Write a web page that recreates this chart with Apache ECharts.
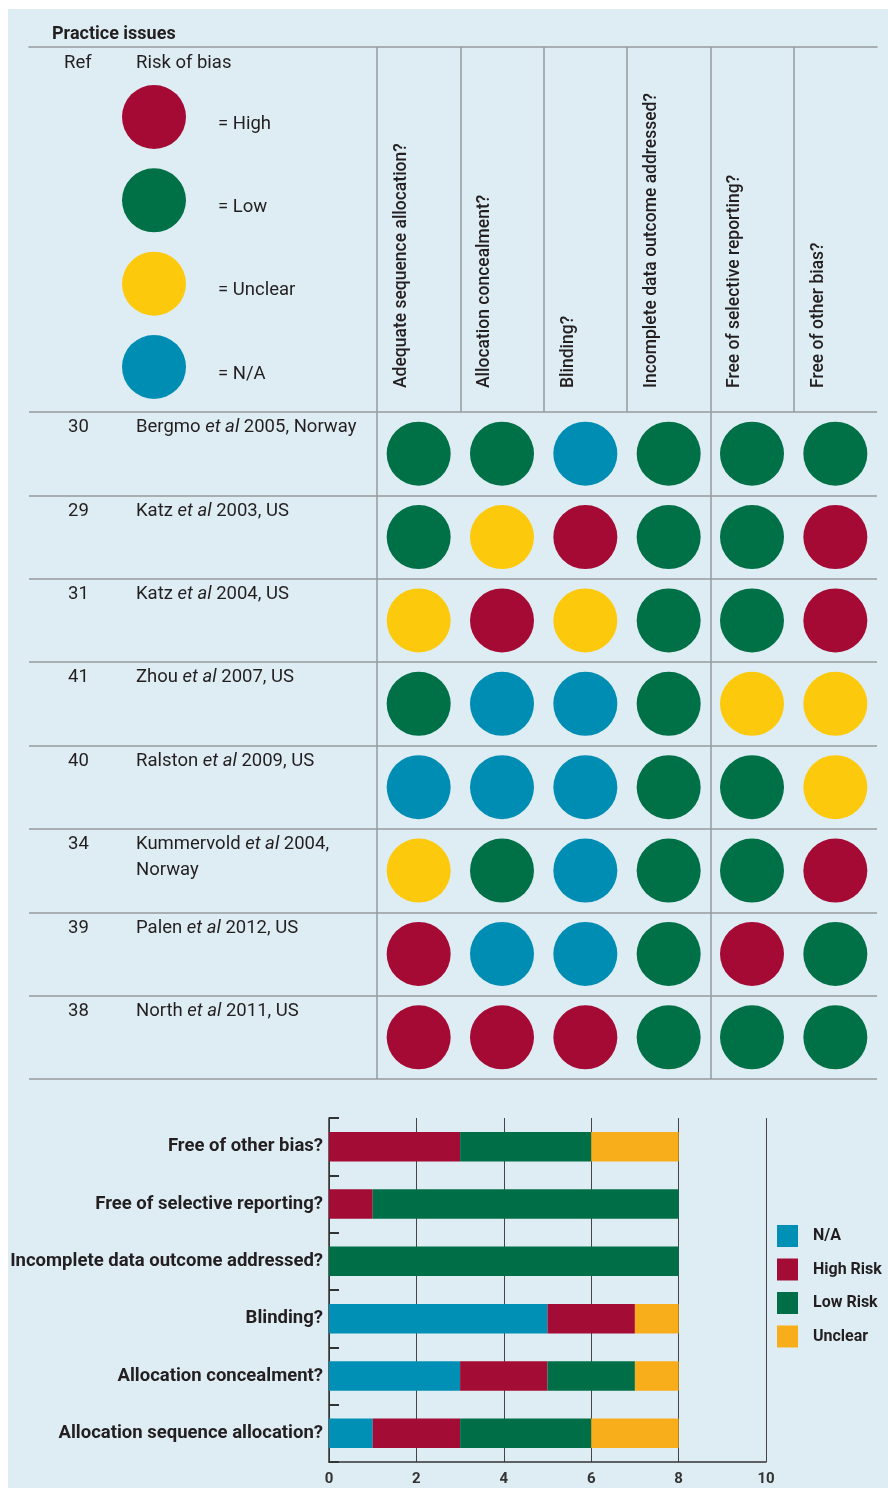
<!DOCTYPE html>
<html lang="en">
<head>
    <meta charset="UTF-8">
    <script src="https://cdn.jsdelivr.net/npm/echarts@6.0.0/dist/echarts.min.js"></script>
    <title>Risk of bias</title>
    <style>
        body { margin: 0; background: #ffffff; }
        #panel { position: absolute; left: 8px; top: 9px; right: 0; bottom: 0; background: #deedf4; }
        #chart_main { position: absolute; left: 0; top: 0; width: 888px; height: 1488px; }
    </style>
</head>
<body>
<div id="panel"></div>
<div id="chart_main"></div>
<script>

    // ---- table data ----
    var refs = ['30', '29', '31', '41', '40', '34', '39', '38'];
    var authors = ['Bergmo', 'Katz', 'Katz', 'Zhou', 'Ralston', 'Kummervold', 'Palen', 'North'];
    var details = ['2005, Norway', '2003, US', '2004, US', '2007, US', '2009, US', '2004,\nNorway', '2012, US', '2011, US'];
    var questions = ['Adequate sequence allocation?', 'Allocation concealment?', 'Blinding?',
        'Incomplete data outcome addressed?', 'Free of selective reporting?', 'Free of other bias?'];
    // H = high, L = low, U = unclear, N = n/a ; one row per study, one column per question
    var ratings = [
        ['L', 'L', 'N', 'L', 'L', 'L'],
        ['L', 'U', 'H', 'L', 'L', 'H'],
        ['U', 'H', 'U', 'L', 'L', 'H'],
        ['L', 'N', 'N', 'L', 'U', 'U'],
        ['N', 'N', 'N', 'L', 'L', 'U'],
        ['U', 'L', 'N', 'L', 'L', 'H'],
        ['H', 'N', 'N', 'L', 'H', 'L'],
        ['H', 'H', 'H', 'L', 'L', 'L']
    ];
    var statusKeys = ['H', 'L', 'U', 'N'];
    var statusNames = ['= High', '= Low', '= Unclear', '= N/A'];
    var statusColors = ['#a50a34', '#007047', '#fdc90d', '#008db4'];

    // ---- summary bar data ----
    var barQuestions = ['Allocation sequence allocation?', 'Allocation concealment?', 'Blinding?',
        'Incomplete data outcome addressed?', 'Free of selective reporting?', 'Free of other bias?'];
    var naCounts = [1, 3, 5, 0, 0, 0];
    var highCounts = [2, 2, 2, 0, 1, 3];
    var lowCounts = [3, 2, 0, 8, 7, 3];
    var unclearCounts = [2, 1, 1, 0, 0, 2];
    var barNames = ['N/A', 'High Risk', 'Low Risk', 'Unclear'];
    var barColors = ['#008fb5', '#a30c35', '#006f47', '#f8ae1b'];

    var FONT = 'Roboto, "Noto Sans", sans-serif';
    var LINE = '#959a9e';
    var INK = '#231f20';
    var FS = 18.5;

    var Chart_Main = echarts.init(document.getElementById('chart_main'));

    function rowLabel(value, index) {
        var parts = details[index].split('\n');
        var s = '{num|' + refs[index] + '}{nm|' + authors[index] + ' }{it|et al}{nm| ' + parts[0] + '}';
        s += '\n{num| }{nm|' + (parts[1] || ' ') + '}';
        s += '\n{nm| }';
        return s;
    }

    var series = [];
    for (var k in statusKeys) {
        var pts = [];
        for (var r in ratings) {
            for (var c in ratings[r]) {
                if (ratings[r][c] == statusKeys[k]) {
                    pts.push([Number(c), Number(r)]);
                }
            }
        }
        series.push({
            name: statusNames[k],
            type: 'scatter',
            xAxisIndex: 1,
            yAxisIndex: 1,
            symbol: 'circle',
            symbolSize: 64,
            itemStyle: {color: statusColors[k], opacity: 1},
            data: pts
        });
    }

    var barData = [naCounts, highCounts, lowCounts, unclearCounts];
    for (var b in barNames) {
        series.push({
            name: barNames[b],
            type: 'bar',
            stack: 'total',
            xAxisIndex: 4,
            yAxisIndex: 4,
            barWidth: 29.5,
            itemStyle: {color: barColors[b]},
            data: barData[b]
        });
    }

    var option = {
        animation: false,
        backgroundColor: 'transparent',
        textStyle: {fontFamily: FONT},
        title: [
            {text: 'Practice issues', left: 52, top: 25, padding: 0, textStyle: {fontSize: 18, fontWeight: 'bold', color: INK, fontFamily: FONT}},
            {text: 'Ref', left: 64, top: 54, padding: 0, textStyle: {fontSize: FS, fontWeight: 'normal', color: INK, fontFamily: FONT}},
            {text: 'Risk of bias', left: 136, top: 54, padding: 0, textStyle: {fontSize: FS, fontWeight: 'normal', color: INK, fontFamily: FONT}}
        ],
        legend: [
            {
                data: statusNames,
                orient: 'vertical',
                left: 122,
                top: 85,
                padding: 0,
                icon: 'circle',
                itemWidth: 64,
                itemHeight: 64,
                itemGap: 19.33,
                selectedMode: false,
                formatter: '{t|{name}}',
                textStyle: {
                    padding: [0, 0, 0, 27],
                    rich: {t: {fontSize: FS, color: INK, fontFamily: FONT, padding: [14, 0, 0, 0]}}
                }
            },
            {
                data: barNames,
                orient: 'vertical',
                left: 777,
                top: 1225,
                padding: 0,
                icon: 'rect',
                itemWidth: 21,
                itemHeight: 22,
                itemGap: 11.5,
                selectedMode: false,
                textStyle: {fontSize: 16, fontWeight: 'bold', color: INK, fontFamily: FONT, padding: [0, 0, 0, 10]}
            }
        ],
        grid: [
            {left: 29, top: 412, width: 348, height: 667},
            {left: 377, top: 412, width: 500, height: 667},
            {left: 377, top: 47, width: 500, height: 365},
            {left: 29, top: 47, width: 848, height: 365},
            {left: 329, top: 1118, width: 437, height: 344}
        ],
        xAxis: [
            {gridIndex: 0, type: 'value', min: 0, max: 1, show: false},
            {
                gridIndex: 1, type: 'category', data: questions,
                axisLine: {show: false}, axisTick: {show: false}, axisLabel: {show: false},
                splitLine: {show: true, showMaxLine: false, lineStyle: {color: LINE, width: 1.5}}
            },
            {
                gridIndex: 2, type: 'category', data: questions, position: 'bottom',
                axisLine: {show: false}, axisTick: {show: false},
                axisLabel: {
                    inside: true, rotate: 90, margin: 24, interval: 0,
                    fontSize: 17.5, fontWeight: 500, color: INK, fontFamily: FONT,
                    verticalAlign: 'bottom', padding: [0, 0, 8, 0]
                },
                splitLine: {show: true, showMaxLine: false, lineStyle: {color: LINE, width: 1.5}}
            },
            {
                gridIndex: 3, type: 'category', data: [''], position: 'top',
                axisLine: {show: true, onZero: false, lineStyle: {color: LINE, width: 1.5}},
                axisTick: {show: false}, axisLabel: {show: false}, splitLine: {show: false}
            },
            {
                gridIndex: 4, type: 'value', min: 0, max: 10, interval: 2,
                axisLine: {show: true, lineStyle: {color: '#333', width: 1.5}},
                axisTick: {show: false},
                axisLabel: {fontSize: 15, fontWeight: 'bold', color: '#333', margin: 10, fontFamily: FONT},
                splitLine: {show: true, lineStyle: {color: '#444', width: 1}}
            }
        ],
        yAxis: [
            {
                gridIndex: 0, type: 'category', data: refs, inverse: true,
                axisLine: {show: false}, axisTick: {show: false},
                axisLabel: {
                    inside: true, margin: 39, align: 'left', verticalAlign: 'middle',
                    formatter: rowLabel,
                    rich: {
                        num: {width: 68, fontSize: FS, lineHeight: 26, color: INK, fontFamily: FONT},
                        nm: {fontSize: FS, lineHeight: 26, color: INK, fontFamily: FONT},
                        it: {fontSize: FS, lineHeight: 26, fontStyle: 'italic', color: INK, fontFamily: FONT}
                    }
                },
                splitLine: {show: true, lineStyle: {color: LINE, width: 1.5}}
            },
            {
                gridIndex: 1, type: 'category', data: refs, inverse: true,
                axisLine: {show: false}, axisTick: {show: false}, axisLabel: {show: false},
                splitLine: {show: true, lineStyle: {color: LINE, width: 1.5}}
            },
            {gridIndex: 2, type: 'value', min: 0, max: 1, show: false},
            {gridIndex: 3, type: 'value', min: 0, max: 1, show: false},
            {
                gridIndex: 4, type: 'category', data: barQuestions,
                axisLine: {show: true, lineStyle: {color: '#333', width: 1.5}},
                axisTick: {show: true, inside: true, length: 10, lineStyle: {color: '#333', width: 2}},
                axisLabel: {fontSize: 18.5, fontWeight: 'bold', color: INK, margin: 6, fontFamily: FONT},
                splitLine: {show: false}
            }
        ],
        series: series
    };

    Chart_Main.setOption(option);

</script>
</body>
</html>
